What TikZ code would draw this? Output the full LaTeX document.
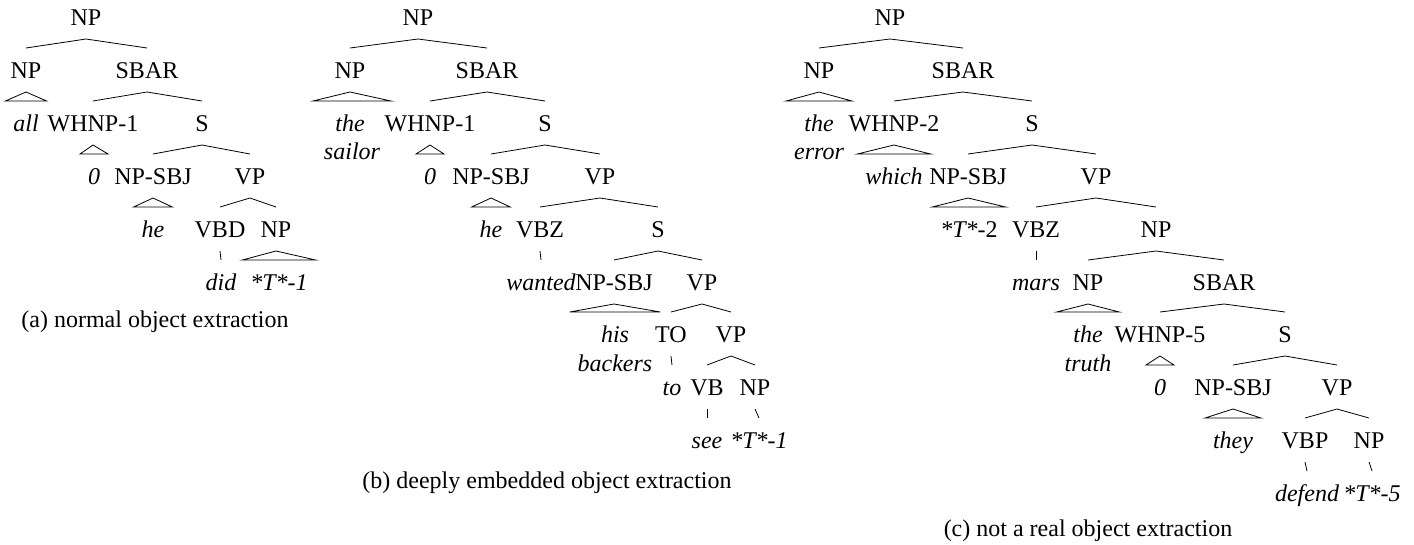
\documentclass[tikz,border=0pt]{standalone}
\usepackage{fontspec}
\setmainfont{Liberation Serif}
\begin{document}
\begin{tikzpicture}[x=1pt,y=-1pt,
  lab/.style={inner sep=0pt, text height=16pt, text depth=0pt, outer ysep=14pt, font=\fontsize{24}{28}\selectfont},
  lf/.style={lab, font=\fontsize{24}{28}\selectfont\itshape, outer xsep=8pt},
  capt/.style={inner sep=0pt, font=\fontsize{24}{28}\selectfont},
  edge/.style={line width=0.8pt, line join=miter}]
\useasboundingbox (0,0) rectangle (1414,544);
% ---------- tree (a)
\node[lab] (a0) at (86,17) {NP};
\node[lab] (a1) at (26,70) {NP};
\node[lab] (a2) at (147,70) {SBAR};
\node[lf]  (a3) at (26,123) {all};
\node[lab] (a4) at (93,123) {WHNP-1};
\node[lab] (a5) at (202,123) {S};
\node[lf]  (a6) at (94,176) {0};
\node[lab] (a7) at (153,176) {NP-SBJ};
\node[lab] (a8) at (250,176) {VP};
\node[lf]  (a9) at (153,229) {he};
\node[lab] (a10) at (220,229) {VBD};
\node[lab] (a11) at (276,229) {NP};
\node[lf]  (a12) at (221,282) {did};
\node[lf]  (a13) at (279,282) {*T*-1};
\node[capt] (ca) at (155,322) {(a) normal object extraction};
\draw[edge] (a1.north) -- (a0.south) -- (a2.north);
\draw[edge] (a1.south) -- (a3.north west) -- (a3.north east) -- cycle;
\draw[edge] (a4.north) -- (a2.south) -- (a5.north);
\draw[edge] (a4.south) -- (a6.north west) -- (a6.north east) -- cycle;
\draw[edge] (a7.north) -- (a5.south) -- (a8.north);
\draw[edge] (a7.south) -- (a9.north west) -- (a9.north east) -- cycle;
\draw[edge] (a10.north) -- (a8.south) -- (a11.north);
\draw[edge] (a10.south) -- (a12.north);
\draw[edge] (a11.south) -- (a13.north west) -- (a13.north east) -- cycle;
% ---------- tree (b)
\node[lab] (b0) at (418,17) {NP};
\node[lab] (b1) at (350,70) {NP};
\node[lab] (b2) at (487,70) {SBAR};
\node[lf]  (b3) at (350,123) {the};
\node[lf, outer xsep=11pt]  (b3s) at (352,151) {sailor};
\node[lab] (b4) at (430,123) {WHNP-1};
\node[lab] (b5) at (545,123) {S};
\node[lf]  (b6) at (430,176) {0};
\node[lab] (b7) at (491,176) {NP-SBJ};
\node[lab] (b8) at (600,176) {VP};
\node[lf]  (b9) at (491,229) {he};
\node[lab] (b10) at (540,229) {VBZ};
\node[lab] (b11) at (658,229) {S};
\node[lf]  (b12) at (541,282) {wanted};
\node[lab] (b13) at (614,282) {NP-SBJ};
\node[lab] (b14) at (702,282) {VP};
\node[lf]  (b15) at (615,334) {his};
\node[lf]  (b15s) at (615,363) {backers};
\node[lab] (b16) at (671,334) {TO};
\node[lab] (b17) at (731,334) {VP};
\node[lf]  (b18) at (672,387) {to};
\node[lab] (b19) at (707,387) {VB};
\node[lab] (b20) at (755,387) {NP};
\node[lf]  (b21) at (707,440) {see};
\node[lf]  (b22) at (759,440) {*T*-1};
\node[capt] (cb) at (547,483) {(b) deeply embedded object extraction};
\draw[edge] (b1.north) -- (b0.south) -- (b2.north);
\draw[edge] (b1.south) -- (b3s.west |- b3.north) -- (b3s.east |- b3.north) -- cycle;
\draw[edge] (b4.north) -- (b2.south) -- (b5.north);
\draw[edge] (b4.south) -- (b6.north west) -- (b6.north east) -- cycle;
\draw[edge] (b7.north) -- (b5.south) -- (b8.north);
\draw[edge] (b7.south) -- (b9.north west) -- (b9.north east) -- cycle;
\draw[edge] (b10.north) -- (b8.south) -- (b11.north);
\draw[edge] (b10.south) -- (b12.north);
\draw[edge] (b13.north) -- (b11.south) -- (b14.north);
\draw[edge] (b13.south) -- (b15s.west |- b15.north) -- (b15s.east |- b15.north) -- cycle;
\draw[edge] (b16.north) -- (b14.south) -- (b17.north);
\draw[edge] (b16.south) -- (b18.north);
\draw[edge] (b19.north) -- (b17.south) -- (b20.north);
\draw[edge] (b19.south) -- (b21.north);
\draw[edge] (b20.south) -- (b22.north);
% ---------- tree (c)
\node[lab] (c0) at (890,17) {NP};
\node[lab] (c1) at (819,70) {NP};
\node[lab] (c2) at (963,70) {SBAR};
\node[lf]  (c3) at (819,123) {the};
\node[lf]  (c3s) at (819,151) {error};
\node[lab] (c4) at (894,123) {WHNP-2};
\node[lab] (c5) at (1032,123) {S};
\node[lf]  (c6) at (894,176) {which};
\node[lab] (c7) at (968,176) {NP-SBJ};
\node[lab] (c8) at (1096,176) {VP};
\node[lf]  (c9) at (969,229) {*T*\upshape-2};
\node[lab] (c10) at (1036,229) {VBZ};
\node[lab] (c11) at (1156,229) {NP};
\node[lf]  (c12) at (1036,282) {mars};
\node[lab] (c13) at (1088,282) {NP};
\node[lab] (c14) at (1224,282) {SBAR};
\node[lf]  (c15) at (1088,334) {the};
\node[lf]  (c15s) at (1088,363) {truth};
\node[lab] (c16) at (1160,334) {WHNP-5};
\node[lab] (c17) at (1285,334) {S};
\node[lf]  (c18) at (1160,387) {0};
\node[lab] (c19) at (1233,387) {NP-SBJ};
\node[lab] (c20) at (1337,387) {VP};
\node[lf]  (c21) at (1233,440) {they};
\node[lab] (c22) at (1305,440) {VBP};
\node[lab] (c23) at (1369,440) {NP};
\node[lf]  (c24) at (1307,493) {defend};
\node[lf]  (c25) at (1372,493) {*T*-5};
\node[capt] (cc) at (1088,531) {(c) not a real object extraction};
\draw[edge] (c1.north) -- (c0.south) -- (c2.north);
\draw[edge] (c1.south) -- (c3s.west |- c3.north) -- (c3s.east |- c3.north) -- cycle;
\draw[edge] (c4.north) -- (c2.south) -- (c5.north);
\draw[edge] (c4.south) -- (c6.north west) -- (c6.north east) -- cycle;
\draw[edge] (c7.north) -- (c5.south) -- (c8.north);
\draw[edge] (c7.south) -- (c9.north west) -- (c9.north east) -- cycle;
\draw[edge] (c10.north) -- (c8.south) -- (c11.north);
\draw[edge] (c10.south) -- (c12.north);
\draw[edge] (c13.north) -- (c11.south) -- (c14.north);
\draw[edge] (c13.south) -- (c15s.west |- c15.north) -- (c15s.east |- c15.north) -- cycle;
\draw[edge] (c16.north) -- (c14.south) -- (c17.north);
\draw[edge] (c16.south) -- (c18.north west) -- (c18.north east) -- cycle;
\draw[edge] (c19.north) -- (c17.south) -- (c20.north);
\draw[edge] (c19.south) -- (c21.north west) -- (c21.north east) -- cycle;
\draw[edge] (c22.north) -- (c20.south) -- (c23.north);
\draw[edge] (c22.south) -- (c24.north);
\draw[edge] (c23.south) -- (c25.north);
\end{tikzpicture}
\end{document}
